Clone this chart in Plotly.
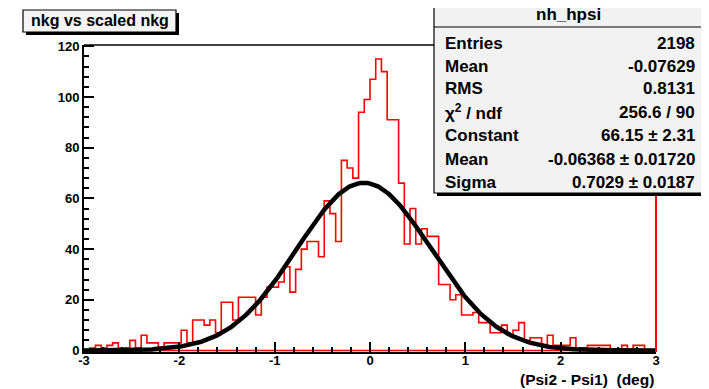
import numpy as np
import plotly.graph_objects as go

# ---------------- data ----------------
x_min, x_max, n_bins = -3.0, 3.0, 100
counts = [
    0, 1, 2, 1, 2, 3, 1, 1, 4, 1,
    6, 3, 3, 1, 3, 3, 3, 8, 3, 12,
    12, 10, 12, 7, 19, 19, 12, 21, 21, 21,
    14, 21, 25, 25, 27, 33, 23, 32, 40, 43,
    43, 37, 59, 54, 43, 75, 72, 68, 94, 99,
    107, 115, 110, 91, 91, 66, 42, 56, 42, 48,
    45, 45, 26, 26, 20, 22, 14, 14, 15, 11,
    11, 7, 7, 10, 6, 8, 11, 4, 5, 5,
    2, 6, 2, 2, 2, 5, 0, 1, 2, 2,
    2, 2, 0, 0, 2, 0, 2, 2, 0, 0,
]
# Gaussian fit parameters, as printed in the stats box
fit_constant = 66.15
fit_mean = -0.06368
fit_sigma = 0.7029

title_text = "nkg vs scaled nkg"
stats_title = "nh_hpsi"
stats_labels = ["Entries", "Mean", "RMS", "\u03c7<sup>2</sup> / ndf", "Constant", "Mean", "Sigma"]
stats_values = ["2198", "-0.07629", "0.8131", "256.6 / 90",
                "66.15 \u00b1 2.31", "-0.06368 \u00b1 0.01720", "0.7029 \u00b1 0.0187"]
x_title = "(Psi2 - Psi1)\u00a0\u00a0(deg)"
x_ticks = [-3, -2, -1, 0, 1, 2, 3]
y_ticks = [0, 20, 40, 60, 80, 100, 120]

# ---------------- geometry ----------------
W, H = 709, 389          # browser window
OFF = 8                  # default page body margin
L, R, T, B = 84, 656, 45, 352  # plot frame in window pixels


def px(x):
    return (x - L) / (R - L)


def py(y):
    return (B - y) / (B - T)


edges = np.linspace(x_min, x_max, n_bins + 1)
hx = [edges[0]] + list(edges[:-1]) + [edges[-1], edges[-1], edges[0]]
hy = [0] + list(counts) + [counts[-1], 0, 0]

gx = np.linspace(x_min, x_max, 400)
gy = fit_constant * np.exp(-0.5 * ((gx - fit_mean) / fit_sigma) ** 2)

FONT = "Liberation Sans"

fig = go.Figure()
fig.add_trace(go.Scatter(x=hx, y=hy, mode="lines", line=dict(color="#ff0000", width=1.6, shape="hv"),
                         hoverinfo="skip", showlegend=False))
fig.add_trace(go.Scatter(x=gx, y=gy, mode="lines", line=dict(color="black", width=4.5),
                         hoverinfo="skip", showlegend=False))

axis_common = dict(showgrid=False, zeroline=False, showline=True, linecolor="black", linewidth=2,
                   ticks="inside", ticklen=10, tickwidth=1.5, tickcolor="black",
                   tickfont=dict(family=FONT, size=13, color="black", weight="bold"))
fig.update_xaxes(range=[x_min, x_max], tickvals=x_ticks, ticktext=[str(v) for v in x_ticks],
                 minor=dict(ticks="inside", ticklen=5, dtick=0.2, tick0=-3, tickcolor="black", tickwidth=1.5),
                 ticklabelstandoff=-5, **axis_common)
fig.update_yaxes(range=[-0.6, 120.5], tickvals=y_ticks, ticktext=[str(v) for v in y_ticks],
                 minor=dict(ticks="inside", ticklen=5, dtick=4, tick0=0, tickcolor="black", tickwidth=1.5),
                 ticklabelstandoff=0, **axis_common)

shapes = []
shapes.append(dict(type="line", xref="paper", yref="paper", x0=0, x1=1, y0=1, y1=1,
                   line=dict(color="black", width=1.5)))
shapes.append(dict(type="line", xref="paper", yref="paper", x0=1, x1=1, y0=0, y1=1,
                   line=dict(color="#ff0000", width=2)))


def box(x0, y0, x1, y1, fill, lw=1.2, shadow=3):
    return [dict(type="rect", xref="paper", yref="paper",
                 x0=px(x0 + shadow), x1=px(x1 + shadow), y0=py(y1 + shadow), y1=py(y0 + shadow),
                 fillcolor="black", line=dict(width=0)),
            dict(type="rect", xref="paper", yref="paper",
                 x0=px(x0), x1=px(x1), y0=py(y1), y1=py(y0),
                 fillcolor=fill, line=dict(color="black", width=lw))]


shapes += box(23, 10, 176, 32, "#f4f4f4")
shapes += box(434, 3, 702, 193, "#f2f2f2")
shapes.append(dict(type="line", xref="paper", yref="paper", x0=px(434), x1=px(702), y0=py(27), y1=py(27),
                   line=dict(color="black", width=1.2)))

ann = []
ann.append(dict(xref="paper", yref="paper", x=px(99.5), y=py(21), text="<b>%s</b>" % title_text,
                showarrow=False, xanchor="center", yanchor="middle",
                font=dict(family=FONT, size=16, color="black")))
ann.append(dict(xref="paper", yref="paper", x=px(568), y=py(15), text="<b>%s</b>" % stats_title,
                showarrow=False, xanchor="center", yanchor="middle",
                font=dict(family=FONT, size=17, color="black")))
row_y = [43, 66, 89, 112, 135, 159, 182]
for lab, val, yy in zip(stats_labels, stats_values, row_y):
    ann.append(dict(xref="paper", yref="paper", x=px(443), y=py(yy), text="<b>%s</b>" % lab,
                    showarrow=False, xanchor="left", yanchor="middle",
                    font=dict(family=FONT, size=17, color="black")))
    ann.append(dict(xref="paper", yref="paper", x=px(697), y=py(yy), text="<b>%s</b>" % val,
                    showarrow=False, xanchor="right", yanchor="middle",
                    font=dict(family=FONT, size=17, color="black")))
ann.append(dict(xref="paper", yref="paper", x=px(656), y=py(379), text="<b>%s</b>" % x_title,
                showarrow=False, xanchor="right", yanchor="middle",
                font=dict(family=FONT, size=15.5, color="black")))

fig.update_layout(width=W - OFF, height=H - OFF,
                  margin=dict(l=L - OFF, r=W - R, t=T - OFF, b=H - B, pad=0),
                  paper_bgcolor="white", plot_bgcolor="white", shapes=shapes, annotations=ann,
                  showlegend=False)

fig.write_html("out.html")
